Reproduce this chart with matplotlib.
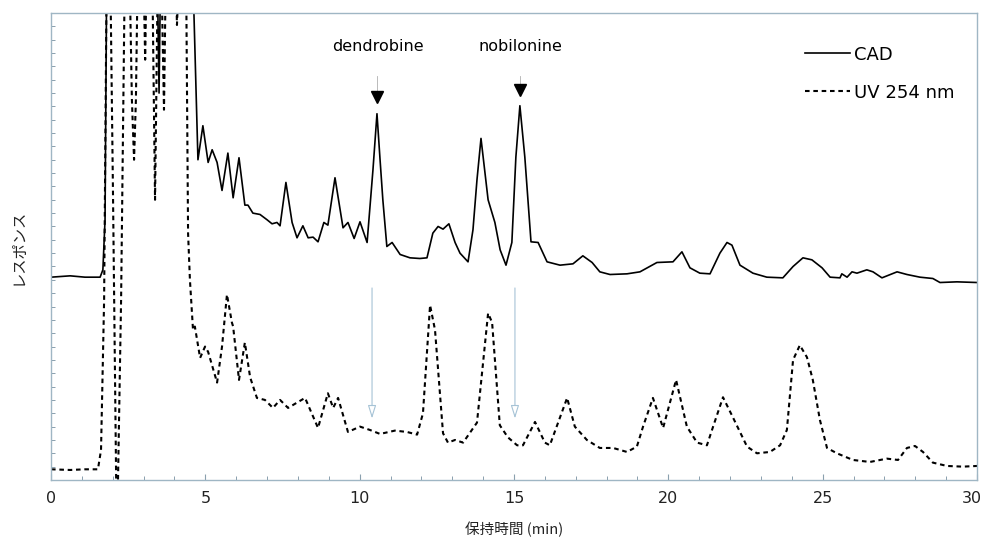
import matplotlib
matplotlib.use("Agg")
import matplotlib.pyplot as plt
import matplotlib.transforms as mtransforms
import numpy as np

# CAD trace (solid): retention time (min), response
cad_t = [0.0, 0.62, 1.10, 1.59, 1.68, 1.75, 1.81, 3.43, 3.50, 3.56, 4.57, 4.76,
         4.92, 5.09, 5.22, 5.38, 5.54, 5.73, 5.90, 6.09, 6.28, 6.38, 6.54, 6.77,
         7.00, 7.16, 7.32, 7.42, 7.61, 7.81, 7.97, 8.16, 8.33, 8.49, 8.65, 8.84,
         8.97, 9.20, 9.46, 9.62, 9.82, 10.01, 10.24, 10.43, 10.56, 10.66, 10.75,
         10.88, 11.05, 11.31, 11.63, 11.95, 12.18, 12.37, 12.54, 12.70, 12.89,
         13.09, 13.25, 13.51, 13.67, 13.80, 13.93, 14.16, 14.38, 14.55, 14.74,
         14.93, 15.06, 15.19, 15.35, 15.55, 15.78, 16.07, 16.49, 16.91, 17.23,
         17.53, 17.78, 18.11, 18.66, 19.08, 19.63, 20.15, 20.44, 20.70, 21.02,
         21.35, 21.67, 21.90, 22.06, 22.32, 22.74, 23.19, 23.71, 24.04, 24.36,
         24.65, 24.98, 25.24, 25.56, 25.62, 25.79, 25.95, 26.11, 26.43, 26.63,
         26.92, 27.41, 27.73, 28.15, 28.57, 28.80, 29.35, 30.00]
cad_r = [152, 153, 152, 152, 157.5, 195, 400, 400, 290, 400, 400, 240,
         265.5, 238, 247.5, 238, 217, 245, 211.5, 241.5, 206, 206, 200, 199,
         195, 192, 193, 190.5, 223, 193, 181.5, 190.5, 181.5, 182, 178.5, 193,
         191, 226.5, 189, 193, 181, 193.5, 178, 232.5, 274.5, 240, 210,
         175, 178, 169, 166.5, 166, 166.5, 185, 190, 188, 192,
         178, 170, 163.5, 187.5, 225, 256, 210, 193, 172.5, 161,
         178, 242, 280.5, 242, 178.5, 178, 163.5, 161, 162, 168,
         163, 156, 154, 154.5, 156, 163, 163.5, 171, 159, 155,
         154.5, 170, 178, 176, 161, 155, 152, 151.5, 160, 166.5,
         165, 159, 152, 151.5, 154.5, 152, 156, 155, 157.5, 156,
         151.5, 156, 154, 152, 151, 148, 148.5, 148]

# UV 254 nm trace (dashed)
uv_t = [0.0, 0.62, 1.10, 1.52, 1.62, 1.72, 1.81, 1.91, 2.01, 2.11, 2.17, 2.27,
        2.40, 2.53, 2.62, 2.69, 2.75, 2.82, 2.98, 3.05, 3.11, 3.27, 3.37, 3.47,
        3.56, 3.66, 3.73, 4.02, 4.08, 4.18, 4.37, 4.44, 4.50, 4.60, 4.66, 4.83,
        4.99, 5.09, 5.38, 5.54, 5.70, 5.86, 5.90, 6.09, 6.28, 6.45, 6.67, 6.93,
        7.19, 7.42, 7.68, 7.97, 8.23, 8.65, 8.97, 9.14, 9.30, 9.62, 10.01,
        10.33, 10.66, 11.14, 11.53, 11.86, 12.05, 12.28, 12.44, 12.70, 12.86,
        13.09, 13.35, 13.80, 14.16, 14.29, 14.54, 14.80, 15.10, 15.29, 15.68,
        16.00, 16.16, 16.72, 16.97, 17.36, 17.78, 18.21, 18.66, 18.98, 19.18,
        19.50, 19.83, 20.25, 20.60, 20.93, 21.25, 21.45, 21.77, 22.09, 22.55,
        22.87, 23.29, 23.62, 23.84, 24.04, 24.26, 24.49, 24.68, 24.91, 25.14,
        25.46, 25.98, 26.53, 27.08, 27.44, 27.73, 27.99, 28.25, 28.57, 29.03,
        29.54, 30.00]
uv_r = [8, 7.5, 8, 8, 22.5, 135, 400, 400, 210, 0, 0, 135,
        400, 400, 285, 240, 285, 400, 400, 315, 400, 400, 210, 400,
        400, 277.5, 400, 400, 341, 400, 400, 185, 150, 112.5, 115, 91.5,
        100, 96, 73, 100, 139, 118, 115, 75, 103, 77, 61.5, 60,
        54, 60, 54, 58, 61.5, 39, 65, 54, 61.5, 36, 40,
        37.5, 34.5, 37, 36, 34, 50, 131, 112.5, 35, 28,
        30, 28, 43, 125, 118, 41, 32, 26, 26, 43.5,
        28, 26, 61.5, 40, 30, 24, 24, 21, 25, 40,
        61.5, 39, 75, 40, 28, 26, 40, 62, 47, 25,
        20, 21, 26, 37.5, 90, 101, 92, 75, 45, 24,
        20, 15, 13.5, 16, 15, 24, 25.5, 21, 13, 10.5,
        10, 10.5]

peak_names = ["dendrobine", "nobilonine"]
peak_t = [10.56, 15.19]
peak_r = [287, 292]
text_t = [10.6, 15.2]
uv_arrow_t = [10.40, 15.03]

fig = plt.figure(figsize=(9.85, 5.39), dpi=100)
ax = fig.add_axes([0.0518, 0.1095, 0.9401, 0.8664])

ax.plot(cad_t, cad_r, color="black", lw=1.2, label="CAD")
ax.plot(uv_t, uv_r, color="black", lw=1.5, linestyle=(0, (2.2, 1.8)), label="UV 254 nm")

for name, t, r, tt in zip(peak_names, peak_t, peak_r, text_t):
    ax.text(tt, 325, name, ha="center", va="center", fontsize=11.5)
    ax.plot([t, t], [303, r + 4], color="#b0b0b0", lw=0.6)
    ax.plot(t, r, marker="v", ms=8, color="black", linestyle="None")

for t in uv_arrow_t:
    ax.annotate("", xy=(t, 44), xytext=(t, 146),
                arrowprops=dict(arrowstyle="-|>,head_length=0.8,head_width=0.25",
                                color="#a6c3d6", lw=0.8, fc="white"))

ax.set_xlim(0, 30)
ax.set_ylim(0, 350)
ax.set_xticks(np.arange(0, 31, 5))
ax.set_xticks(np.arange(0, 31, 1), minor=True)
ax.set_yticks(np.arange(0, 351, 10))
ax.set_yticklabels([])
ax.tick_params(axis="x", direction="in", length=4, width=0.8, color="#8aa0ae",
               labelsize=11.5, pad=8, labelcolor="#222222")
ax.tick_params(axis="x", which="minor", direction="in", length=3, width=0.7, color="#8aa0ae")
ax.tick_params(axis="y", direction="in", length=3, width=0.7, color="#8aa0ae")
for s in ax.spines.values():
    s.set_color("#9fb6c4")
    s.set_linewidth(1.0)

# nudge the last tick label so it stays inside the figure
last = ax.get_xticklabels()[-1]
last.set_transform(last.get_transform() +
                   mtransforms.ScaledTranslation(-0.05, 0, fig.dpi_scale_trans))

ax.set_xlabel("保持時間 (min)", family=["Noto Sans CJK JP", "DejaVu Sans"],
              fontsize=10.5, labelpad=11, color="#222222")
ax.set_ylabel("レスポンス", family=["Noto Sans CJK JP", "DejaVu Sans"],
              fontsize=11, labelpad=14, color="#222222")

ax.legend(loc="upper left", bbox_to_anchor=(0.814, 0.93), frameon=False,
          fontsize=13, handlelength=2.5, handletextpad=0.2, labelspacing=1.1,
          borderpad=0, borderaxespad=0)

plt.savefig("out.png", dpi=100)
